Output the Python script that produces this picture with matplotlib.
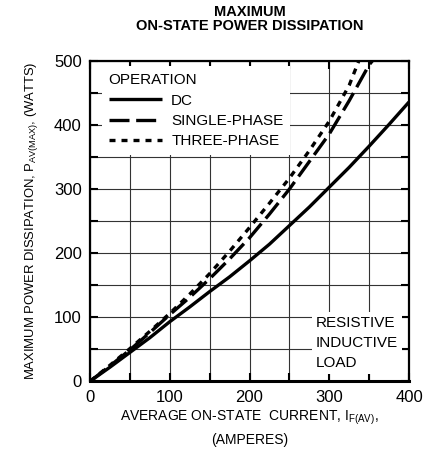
import matplotlib
matplotlib.use("Agg")
import matplotlib.pyplot as plt
import numpy as np

plt.rcParams['font.family'] = ['Liberation Sans', 'DejaVu Sans']
plt.rcParams['mathtext.default'] = 'regular'

# Data
dc_current = [0, 25, 50, 75, 100, 125, 150, 175, 200, 225, 250, 275, 300, 325, 350, 375, 400]
dc_power = [0, 22, 45, 68, 93, 116, 140, 163, 188, 214, 243, 272, 303, 334, 367, 401, 436]

sp_current = [0, 25, 50, 75, 100, 125, 150, 175, 200, 225, 250, 275, 300, 325, 350, 354]
sp_power = [0, 24, 49, 76, 104, 131, 160, 191, 224, 261, 300, 343, 386, 438, 494, 500]

tp_current = [0, 25, 50, 75, 100, 125, 150, 175, 200, 225, 250, 275, 300, 325, 337]
tp_power = [0, 25, 51, 78, 106, 136, 168, 203, 240, 278, 317, 360, 406, 462, 500]

x_ticks = [0, 100, 200, 300, 400]
y_ticks = [0, 100, 200, 300, 400, 500]

fig = plt.figure(figsize=(4.33, 4.54), dpi=100)
ax = fig.add_axes([90/433, (454-381.3)/454, (409-90)/433, (381.3-61)/454])

ax.plot(dc_current, dc_power, color='black', lw=2.4, label='DC', solid_capstyle='butt')
ax.plot(sp_current, sp_power, color='black', lw=2.4, dashes=(6, 2), label='SINGLE-PHASE')
ax.plot(tp_current, tp_power, color='black', lw=2.4, dashes=(1.8, 1.8), label='THREE-PHASE')

ax.set_xlim(0, 400)
ax.set_ylim(0, 500)
ax.set_xticks(np.arange(0, 401, 50), minor=True)
ax.set_yticks(np.arange(0, 501, 50), minor=True)
ax.set_xticks(x_ticks)
ax.set_yticks(y_ticks)
ax.grid(True, which='both', color='#333333', lw=0.8)
ax.set_axisbelow(True)
ax.tick_params(which='both', direction='in', top=True, right=True, length=6, width=1.5, labelsize=12, pad=6)
for s in ax.spines.values():
    s.set_linewidth(1.6)
ax.spines['bottom'].set_linewidth(2.2)

leg = ax.legend(title='OPERATION', loc='upper left', bbox_to_anchor=(0.02, 1.0),
                frameon=True, fancybox=False, fontsize=11, title_fontsize=11,
                handlelength=3.5, handletextpad=0.6, labelspacing=0.42,
                borderpad=0.45, alignment='left', borderaxespad=0.35)
leg.get_frame().set_edgecolor('none')
leg.get_frame().set_facecolor('white')
leg.get_frame().set_alpha(1)

ax.text(0.965, 0.035, 'RESISTIVE\nINDUCTIVE\nLOAD', transform=ax.transAxes,
        ha='right', va='bottom', fontsize=11, linespacing=1.55, multialignment='left',
        bbox=dict(facecolor='white', edgecolor='none', pad=3))

ax.set_xlabel('AVERAGE ON-STATE  CURRENT, I$_{F(AV)}$,\n(AMPERES)', fontsize=10, labelpad=3, linespacing=1.5)
ax.set_ylabel('MAXIMUM POWER DISSIPATION, P$_{AV(MAX)}$, (WATTS)', fontsize=9.4, labelpad=10)
ax.set_title('MAXIMUM\nON-STATE POWER DISSIPATION', fontsize=10.5, fontweight='bold', pad=22, linespacing=1.0)

fig.savefig('out.png', dpi=100)
